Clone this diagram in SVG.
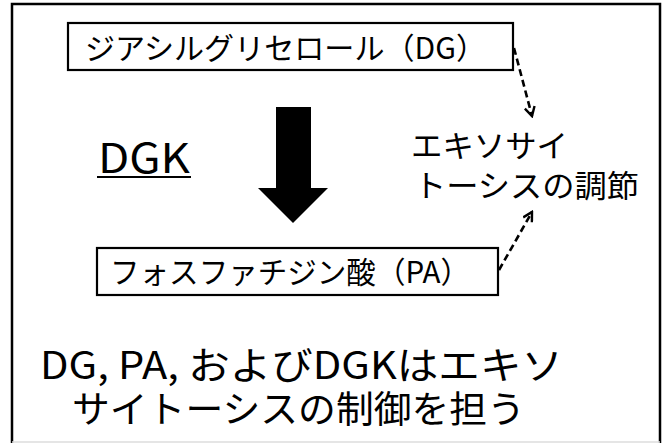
<svg xmlns="http://www.w3.org/2000/svg" width="663" height="443" viewBox="0 0 663 443">
<style>
.t{font-family:"Noto Sans CJK JP","Noto Sans",sans-serif;fill:#000}
.box{fill:#fff;stroke:#000;stroke-width:2.2}
.dash{fill:none;stroke:#000;stroke-width:2.6;stroke-dasharray:7 4}
</style>
<defs>
<marker id="ah" viewBox="0 0 12 12" refX="10" refY="6" markerWidth="12" markerHeight="12" markerUnits="userSpaceOnUse" orient="auto">
<path d="M1,1 L10,6 L1,11" fill="none" stroke="#000" stroke-width="2.4"/>
</marker>
</defs>
<rect width="663" height="443" fill="#fff"/>
<path d="M12,443 V4 H660 V443" fill="none" stroke="#000" stroke-width="2.5"/>
<line x1="12" y1="442" x2="660" y2="442" stroke="#ddd" stroke-width="1.5"/>
<g id="dg">
<rect class="box" x="68" y="23" width="445" height="47"/>
<text class="t" x="85" y="59" font-size="30" textLength="401" lengthAdjust="spacingAndGlyphs">ジアシルグリセロール（DG）</text>
</g>
<g id="pa">
<rect class="box" x="97" y="248" width="401" height="47"/>
<text class="t" x="110" y="283" font-size="30" textLength="360" lengthAdjust="spacingAndGlyphs">フォスファチジン酸（PA）</text>
</g>
<g id="dgk">
<text class="t" x="98" y="173" font-size="41" textLength="92" lengthAdjust="spacingAndGlyphs">DGK</text>
<line x1="97" y1="177" x2="191" y2="177" stroke="#000" stroke-width="2"/>
</g>
<g id="exo">
<text class="t" x="411" y="157" font-size="31" textLength="157" lengthAdjust="spacingAndGlyphs">エキソサイ</text>
<text class="t" x="414" y="197" font-size="31" textLength="225" lengthAdjust="spacingAndGlyphs">トーシスの調節</text>
</g>
<g id="summary">
<text class="t" x="40" y="379" font-size="38" textLength="523" lengthAdjust="spacingAndGlyphs">DG, PA, およびDGKはエキソ</text>
<text class="t" x="72" y="423" font-size="37" textLength="453" lengthAdjust="spacingAndGlyphs">サイトーシスの制御を担う</text>
</g>
<g id="connectors">
<path d="M276,107 H311 V188 H328 L293,223 L258,188 H276 Z" fill="#000"/>
<path class="dash" d="M514,48 L532,116" marker-end="url(#ah)"/>
<path class="dash" d="M499,270 L532,212" marker-end="url(#ah)"/>
</g>
</svg>
